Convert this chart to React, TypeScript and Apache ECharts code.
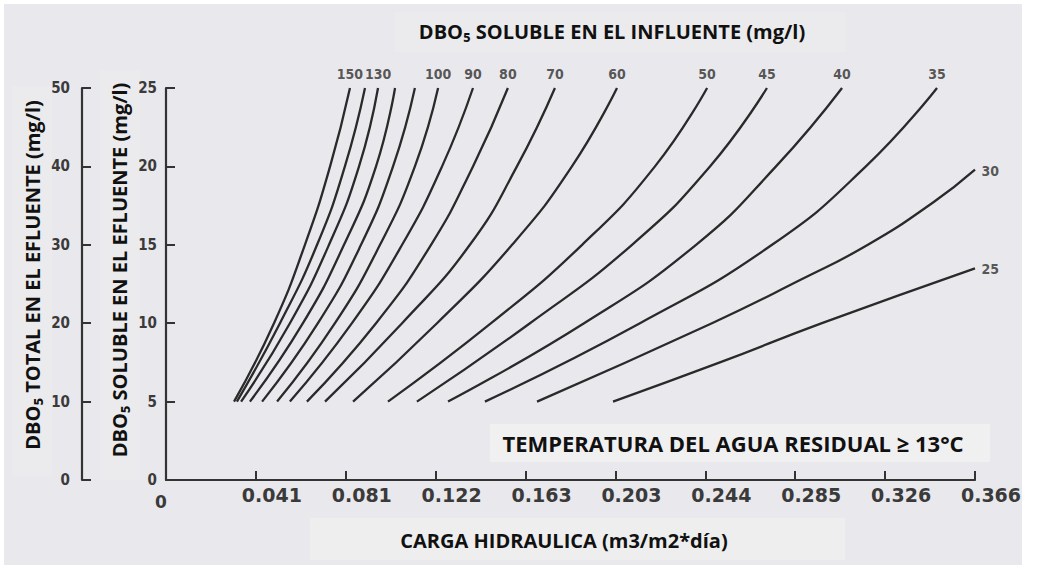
import React, { useEffect, useRef } from "react";
import * as echarts from "echarts";

// x-axis: hydraulic load (m3/m2*day)
const xTickLabels = ["0", "0.041", "0.081", "0.122", "0.163", "0.203", "0.244", "0.285", "0.326", "0.366"];
const xStep = 0.0407;

// effluent soluble BOD levels (y) at which points were read
const levelsStd = [5, 10, 15, 20, 25];
const levels30 = [5, 10, 12.75, 15, 17.7, 19.8];
const levels25 = [5, 7.5, 10, 13.5];

// hydraulic load (x) of each influent-BOD curve at those levels
const x150 = [0.0308, 0.0489, 0.0629, 0.0743, 0.0833];
const x140 = [0.0321, 0.0516, 0.0684, 0.081, 0.0901];
const x130 = [0.034, 0.0561, 0.0738, 0.0874, 0.096];
const x120 = [0.038, 0.062, 0.0806, 0.0951, 0.1037];
const x110 = [0.0435, 0.0688, 0.0883, 0.1028, 0.1127];
const x100 = [0.0503, 0.0765, 0.0969, 0.1127, 0.1232];
const x90 = [0.0561, 0.0842, 0.1069, 0.125, 0.139];
const x80 = [0.0638, 0.0951, 0.12, 0.139, 0.1548];
const x70 = [0.072, 0.1069, 0.1376, 0.1589, 0.1761];
const x60 = [0.0847, 0.1227, 0.1567, 0.1838, 0.2042];
const x50 = [0.1005, 0.1472, 0.1884, 0.2214, 0.245];
const x45 = [0.1136, 0.1648, 0.211, 0.2463, 0.2721];
const x40 = [0.1277, 0.1893, 0.24, 0.2762, 0.3061];
const x35 = [0.1444, 0.2146, 0.2744, 0.3169, 0.3491];
const x30 = [0.168, 0.2472, 0.2871, 0.3178, 0.3473, 0.3663];
const x25 = [0.2024, 0.2508, 0.297, 0.3663];

const curveNames = ["150", "140", "130", "120", "110", "100", "90", "80", "70", "60", "50", "45", "40", "35", "30", "25"];
const curveXs = [x150, x140, x130, x120, x110, x100, x90, x80, x70, x60, x50, x45, x40, x35, x30, x25];
const curveYs = [levelsStd, levelsStd, levelsStd, levelsStd, levelsStd, levelsStd, levelsStd, levelsStd, levelsStd, levelsStd, levelsStd, levelsStd, levelsStd, levelsStd, levels30, levels25];
const labelledCurves = ["150", "130", "100", "90", "80", "70", "60", "50", "45", "40", "35", "30", "25"];
const sideLabelled = ["30", "25"];

const FONT_TITLE = "'Open Sans', 'Noto Sans', sans-serif";
const FONT_TICK = "'DejaVu Sans Condensed', 'DejaVu Sans', sans-serif";
const LINE = "#2a2a2a";
const AXIS = "#333333";
const TICKTXT = "#3a3a3a";

export default function App() {
  const ref = useRef<HTMLDivElement>(null);

  useEffect(() => {
    if (!ref.current) return;
    const chart = echarts.init(ref.current, undefined, { renderer: "svg" });

    const lineSeries = curveNames.map((name, i) => ({
      type: "line",
      name,
      xAxisIndex: 0,
      yAxisIndex: 0,
      smooth: 0.5,
      symbol: "none",
      showSymbol: false,
      silent: true,
      z: 3,
      lineStyle: { color: LINE, width: 2.3 },
      data: curveXs[i].map((x, j) => [x, curveYs[i][j]]),
    }));

    const labelData = curveNames
      .map((name, i) => ({ name, i }))
      .filter((d) => labelledCurves.includes(d.name))
      .map(({ name, i }) => {
        const xs = curveXs[i];
        const ys = curveYs[i];
        const side = sideLabelled.includes(name);
        return {
          name,
          value: [xs[xs.length - 1], ys[ys.length - 1]],
          label: side
            ? { position: "right", distance: 6, offset: [0, 1] }
            : { position: "top", distance: 7 },
        };
      });

    const labelSeries = {
      type: "scatter",
      xAxisIndex: 0,
      yAxisIndex: 0,
      symbolSize: 1,
      silent: true,
      itemStyle: { color: "rgba(0,0,0,0)" },
      label: {
        show: true,
        formatter: (p: any) => p.name,
        color: "#2f2f2f",
        fontFamily: FONT_TICK,
        fontWeight: "bold",
        fontSize: 14,
      },
      data: labelData,
      z: 4,
    };

    const axisCommon = {
      axisLine: { show: true, lineStyle: { color: AXIS, width: 2.2 } },
      axisTick: { show: true, inside: true, length: 9, lineStyle: { color: AXIS, width: 2 } },
      splitLine: { show: false },
    };

    const titleText = (text: string, x: number, y: number, size: number, rotation = 0) => ({
      type: "text",
      z: 10,
      x,
      y,
      rotation,
      style: {
        text,
        font: `bold ${size}px ${FONT_TITLE}`,
        fill: "#111",
        textAlign: "center",
        textVerticalAlign: "middle",
      },
    });

    chart.setOption({
      animation: false,
      backgroundColor: "#ffffff",
      grid: { left: 166, right: 67, top: 88, bottom: 93, containLabel: false },
      xAxis: {
        type: "value",
        min: 0,
        max: 0.3663,
        interval: xStep,
        ...axisCommon,
        axisLabel: {
          margin: 5,
          formatter: (v: number) => {
            const idx = Math.round(v / xStep);
            const t = xTickLabels[idx] ?? "";
            return idx === 0 ? `{z|${t}}` : `{v|${t}}`;
          },
          rich: {
            v: {
              fontFamily: "'DejaVu Sans', sans-serif",
              fontWeight: "bold",
              fontSize: 19,
              color: TICKTXT,
              padding: [0, 0, 0, 32],
            },
            z: {
              fontFamily: "'DejaVu Sans', sans-serif",
              fontWeight: "bold",
              fontSize: 17,
              color: TICKTXT,
              padding: [8, 10, 0, 0],
            },
          },
        },
      },
      yAxis: [
        {
          type: "value",
          min: 0,
          max: 25,
          interval: 5,
          position: "left",
          ...axisCommon,
          axisLabel: {
            margin: 9,
            color: TICKTXT,
            fontFamily: FONT_TICK,
            fontWeight: "bold",
            fontSize: 15,
          },
        },
        {
          type: "value",
          min: 0,
          max: 50,
          interval: 10,
          position: "left",
          offset: 84,
          ...axisCommon,
          axisLabel: {
            margin: 12,
            color: TICKTXT,
            fontFamily: FONT_TICK,
            fontWeight: "bold",
            fontSize: 15,
          },
        },
      ],
      graphic: [
        { type: "rect", z: -10, silent: true, shape: { x: 4, y: 4, width: 1018, height: 561 }, style: { fill: "#e9e8ec" } },
        { type: "rect", z: -9, silent: true, shape: { x: 395, y: 12, width: 450, height: 40 }, style: { fill: "#ebebed" } },
        { type: "rect", z: -9, silent: true, shape: { x: 490, y: 424, width: 500, height: 38 }, style: { fill: "#f0f0f1" } },
        { type: "rect", z: -9, silent: true, shape: { x: 310, y: 518, width: 535, height: 42 }, style: { fill: "#eeeeef" } },
        { type: "rect", z: -9, silent: true, shape: { x: 12, y: 86, width: 40, height: 390 }, style: { fill: "#ebebed" } },
        { type: "rect", z: -9, silent: true, shape: { x: 100, y: 70, width: 40, height: 410 }, style: { fill: "#ebebed" } },
        titleText("DBO₅ SOLUBLE EN EL INFLUENTE (mg/l)", 612, 31, 20),
        titleText("TEMPERATURA DEL AGUA RESIDUAL ≥ 13°C", 733, 443, 22),
        titleText("CARGA HIDRAULICA (m3/m2*día)", 564, 540, 20),
        titleText("DBO₅ TOTAL EN EL EFLUENTE (mg/l)", 32, 275, 20, Math.PI / 2),
        titleText("DBO₅ SOLUBLE EN EL EFLUENTE (mg/l)", 119, 270, 20, Math.PI / 2),
      ],
      series: [...lineSeries, labelSeries],
    });

    return () => chart.dispose();
  }, []);

  return (
    <div
      ref={ref}
      style={{ position: "absolute", left: 0, top: 0, width: 1042, height: 573 }}
    />
  );
}
